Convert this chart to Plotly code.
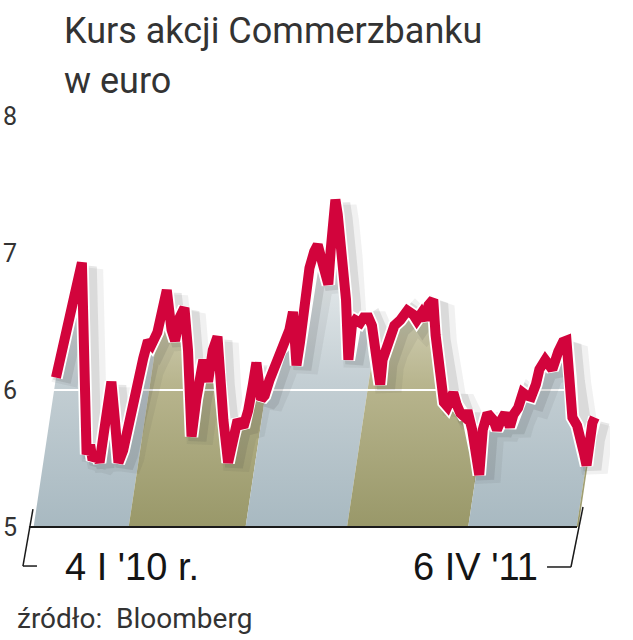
import numpy as np
import pandas as pd
import plotly.graph_objects as go

# ---------------- data ----------------
start_date = "2010-01-04"
day_offsets = [0, 5, 12, 17, 22, 23, 24, 25, 26, 29, 31, 35, 37, 41, 44, 47, 50, 53, 57, 61,
               65, 70, 74, 78, 81, 86, 90, 94, 98, 101, 105, 109, 112, 114, 115, 119, 122, 125, 129, 133,
               137, 139, 142, 146, 150, 154, 159, 163, 167, 170, 174, 177, 181, 186, 190, 194, 198, 201, 204, 207,
               211, 215, 219, 222, 226, 231, 233, 237, 239, 242, 244, 246, 248, 251, 254, 258, 261, 265, 268, 271,
               275, 277, 281, 284, 287, 292, 295, 298, 303, 306, 310, 313, 316, 320, 322, 326, 329, 332, 337, 340,
               343, 347, 349, 353, 356, 359, 362, 366, 371, 374, 377, 381, 385, 388, 392, 396, 399, 403, 407, 410,
               415, 418, 421, 426, 430, 433, 436, 438, 442, 445, 448, 450, 453, 455, 457]
prices = [6.09, 6.29, 6.53, 6.72, 6.93, 6.58, 6.07, 5.64, 5.53, 5.60, 5.49, 5.53, 5.47, 5.71, 5.93, 6.06, 5.78, 5.47, 5.56, 5.74,
          5.89, 6.07, 6.23, 6.36, 6.33, 6.42, 6.57, 6.73, 6.44, 6.36, 6.53, 6.60, 6.29, 5.93, 5.66, 5.93, 6.13, 6.22, 6.06, 6.29,
          6.39, 6.07, 5.78, 5.47, 5.64, 5.78, 5.73, 5.85, 6.04, 6.20, 5.93, 5.96, 6.07, 6.18, 6.29, 6.33, 6.44, 6.57, 6.18, 6.35,
          6.66, 6.89, 7.01, 7.06, 6.93, 6.77, 7.02, 7.39, 7.28, 7.02, 6.88, 6.66, 6.22, 6.47, 6.51, 6.49, 6.53, 6.53, 6.47, 6.26,
          6.04, 6.22, 6.33, 6.40, 6.47, 6.51, 6.55, 6.58, 6.55, 6.51, 6.56, 6.51, 6.62, 6.66, 6.40, 6.09, 5.91, 5.88, 5.98, 5.89,
          5.83, 5.80, 5.85, 5.71, 5.55, 5.38, 5.71, 5.83, 5.78, 5.71, 5.77, 5.83, 5.73, 5.82, 5.87, 5.98, 5.96, 5.95, 6.04, 6.15,
          6.22, 6.18, 6.15, 6.28, 6.35, 6.36, 6.09, 5.80, 5.74, 5.66, 5.53, 5.45, 5.67, 5.76, 5.80]

band_edges = ["2010-01-04", "2010-04-01", "2010-07-01", "2010-10-01", "2011-01-01", "2011-04-01", "2011-04-06"]
band_kinds = ["blue", "olive", "blue", "olive", "blue", "olive"]

y_tick_vals = [5, 6, 7, 8]
y_tick_text = ["5", "6", "7", "8"]

title_line1 = "Kurs akcji Commerzbanku"
title_line2 = "w euro"
start_label = "4 I '10 r."
end_label = "6 IV '11"
source_label = "źródło:  Bloomberg"

# ---------------- styling ----------------
RED = "#d2043c"
BASE = 5.0
SHEAR = 17.4  # days of leftward slant per euro of height (pseudo-3D base)
band_scales = {
    "blue": [[0, "#a8b9c1"], [0.42, "#c3ced3"], [0.75, "#e4e9eb"], [1, "#ffffff"]],
    "olive": [[0, "#999869"], [0.42, "#b8b58e"], [0.75, "#dedcc8"], [1, "#ffffff"]],
}

t0 = pd.Timestamp(start_date)
dates = t0 + pd.to_timedelta(day_offsets, unit="D")
days = np.array(day_offsets, dtype=float)
vals = np.array(prices, dtype=float)

fig = go.Figure()

# filled quarter bands with slanted (sheared) bottoms
for i, kind in enumerate(band_kinds):
    a = (pd.Timestamp(band_edges[i]) - t0).days
    b = (pd.Timestamp(band_edges[i + 1]) - t0).days
    va = float(np.interp(a, days, vals))
    vb = float(np.interp(b, days, vals))
    inside = (days > a) & (days < b)
    top_d = [a] + list(days[inside]) + [b]
    top_v = [va] + list(vals[inside]) + [vb]
    xs_d = top_d + [b - SHEAR * (vb - BASE), a - SHEAR * (va - BASE), a]
    ys = top_v + [BASE, BASE, va]
    xs = t0 + pd.to_timedelta(xs_d, unit="D")
    fig.add_trace(go.Scatter(
        x=xs, y=ys, mode="lines", fill="toself", line=dict(width=0),
        fillgradient=dict(type="vertical", colorscale=band_scales[kind], start=BASE, stop=7.5),
        hoverinfo="skip", showlegend=False))

# white gridline at 6
fig.add_trace(go.Scatter(
    x=[t0 - pd.Timedelta(days=2), t0 + pd.Timedelta(days=440)], y=[6, 6],
    mode="lines", line=dict(color="white", width=2), hoverinfo="skip", showlegend=False))

# soft shadow of the line
for dx, dy, w, col in [(7, -0.05, 26, "rgba(60,60,60,0.07)"), (5, -0.03, 18, "rgba(60,60,60,0.12)")]:
    fig.add_trace(go.Scatter(
        x=dates + pd.Timedelta(days=dx), y=vals + dy, mode="lines",
        line=dict(color=col, width=w), hoverinfo="skip", showlegend=False))

# white halo + red line
fig.add_trace(go.Scatter(x=dates, y=vals, mode="lines", line=dict(color="white", width=13.5),
                         hoverinfo="skip", showlegend=False))
fig.add_trace(go.Scatter(x=dates, y=vals, mode="lines", line=dict(color=RED, width=10),
                         showlegend=False))

def d2t(d):
    return t0 + pd.Timedelta(days=d)

shapes = [
    dict(type="line", xref="x", yref="y", x0=d2t(-22.9), x1=d2t(441.9), y0=5, y1=5,
         line=dict(color="#1a1a1a", width=2)),
    dict(type="line", xref="x", yref="y", x0=d2t(-19.5), y0=5.131, x1=d2t(-28.0), y1=4.715,
         line=dict(color="#1a1a1a", width=1.5)),
    dict(type="line", xref="x", yref="y", x0=d2t(-28.0), y0=4.715, x1=d2t(-16.1), y1=4.715,
         line=dict(color="#1a1a1a", width=1.5)),
    dict(type="line", xref="x", yref="y", x0=d2t(447.0), y0=5.146, x1=d2t(436.8), y1=4.708,
         line=dict(color="#1a1a1a", width=1.5)),
    dict(type="line", xref="x", yref="y", x0=d2t(436.8), y0=4.708, x1=d2t(416.5), y1=4.708,
         line=dict(color="#1a1a1a", width=1.5)),
]

TITLE_FONT = "Roboto, Arial, sans-serif"
LABEL_FONT = "Liberation Sans, Arial, sans-serif"

annotations = [
    dict(text=title_line1, xref="paper", yref="paper", x=0.0712, y=1.139, xanchor="left", yanchor="middle",
         showarrow=False, font=dict(family=TITLE_FONT, size=36, color="#333333")),
    dict(text=title_line2, xref="paper", yref="paper", x=0.0712, y=1.039, xanchor="left", yanchor="middle",
         showarrow=False, font=dict(family=TITLE_FONT, size=36, color="#333333")),
    dict(text=start_label, xref="paper", yref="paper", x=0.0729, y=0.066, xanchor="left", yanchor="middle",
         showarrow=False, font=dict(family=LABEL_FONT, size=38, color="#151515")),
    dict(text=end_label, xref="paper", yref="paper", x=0.8814, y=0.066, xanchor="right", yanchor="middle",
         showarrow=False, font=dict(family=LABEL_FONT, size=38, color="#151515")),
    dict(text=source_label, xref="paper", yref="paper", x=-0.0085, y=-0.036, xanchor="left", yanchor="middle",
         showarrow=False, font=dict(family=TITLE_FONT, size=28, color="#333333")),
]

fig.update_layout(
    width=633, height=640,
    margin=dict(l=20, r=23, t=100, b=40),
    paper_bgcolor="white", plot_bgcolor="white",
    showlegend=False,
    shapes=shapes,
    annotations=annotations,
    xaxis=dict(type="date", range=[d2t(-30.5), d2t(469.9)], visible=False, automargin=False),
    yaxis=dict(range=[4.467, 8.117], tickvals=y_tick_vals, ticktext=y_tick_text,
               showgrid=False, zeroline=False, showline=False, ticks="",
               ticklabelstandoff=2, automargin=False,
               tickfont=dict(family=TITLE_FONT, size=25, color="#333333")),
)

fig.write_html("out.html", config={"displayModeBar": False},
               post_script="document.body.style.margin='0';document.body.style.overflow='hidden';")
